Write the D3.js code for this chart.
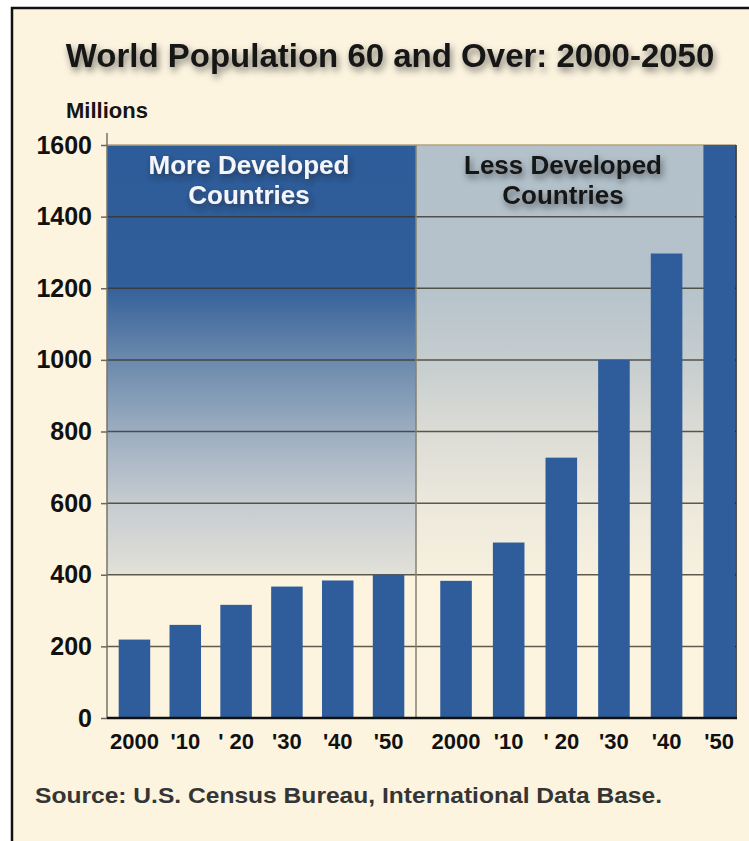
<!DOCTYPE html>
<html>
<head>
  <meta charset="utf-8">
  <script src="https://cdnjs.cloudflare.com/ajax/libs/d3/7.8.5/d3.min.js"></script>
  <title>World Population 60 and Over</title>
  <style>
    body { margin: 0; background: #fff; }
    text { font-family: "Liberation Sans", Arial, sans-serif; font-weight: bold; }
  </style>
</head>
<body>
<script>
// data (millions)
var years = ["2000", "'10", "' 20", "'30", "'40", "'50"];
var moreDeveloped = [219, 260, 316, 367, 384, 400];
var lessDeveloped = [383, 490, 727, 1000, 1297, 1600];
var yTicks = [0, 200, 400, 600, 800, 1000, 1200, 1400, 1600];
var moreLabel = ["More Developed", "Countries"];
var lessLabel = ["Less Developed", "Countries"];

var w = 749, h = 841;
var barColor = "#2f5d9b";

var svg = d3.select("body").append("svg")
  .attr("width", w)
  .attr("height", h);

var defs = svg.append("defs");

var sh = defs.append("filter").attr("id", "shadow")
  .attr("x", "-10%").attr("y", "-30%").attr("width", "120%").attr("height", "180%");
sh.append("feDropShadow").attr("dx", 2).attr("dy", 4).attr("stdDeviation", 3.5)
  .attr("flood-color", "#000").attr("flood-opacity", 0.5);

var sh2 = defs.append("filter").attr("id", "shadow2")
  .attr("x", "-10%").attr("y", "-30%").attr("width", "120%").attr("height", "180%");
sh2.append("feDropShadow").attr("dx", 2).attr("dy", 4).attr("stdDeviation", 3)
  .attr("flood-color", "#1a2535").attr("flood-opacity", 0.6);

// panel gradients
var gMore = defs.append("linearGradient").attr("id", "gMore")
  .attr("x1", 0).attr("y1", 0).attr("x2", 0).attr("y2", 1);
[[0, "#2d5c9a"], [0.32, "#305e99"], [0.49, "#6887ab"], [0.66, "#9aacc0"], [0.83, "#c5cbd0"], [1, "#e2e1d9"]]
  .forEach(function(s) { gMore.append("stop").attr("offset", s[0]).attr("stop-color", s[1]); });

var gLess = defs.append("linearGradient").attr("id", "gLess")
  .attr("x1", 0).attr("y1", 0).attr("x2", 0).attr("y2", 1);
[[0, "#b3c1cb"], [0.32, "#b5c2cb"], [0.49, "#c4ccce"], [0.66, "#dbdbd5"], [0.83, "#ebe8dc"], [1, "#f7f0de"]]
  .forEach(function(s) { gLess.append("stop").attr("offset", s[0]).attr("stop-color", s[1]); });

// frame
svg.append("rect").attr("x", 12).attr("y", 8).attr("width", w - 12).attr("height", h - 8)
  .attr("fill", "#fcf4df");
svg.append("path").attr("d", "M12," + h + "V8H" + w)
  .attr("fill", "none").attr("stroke", "#111").attr("stroke-width", 2.5);

// scales
var x0 = 107, xMid = 416, x1 = 736;
var y = d3.scaleLinear().domain([0, 1600]).range([718, 145]);

var xMore = d3.scaleBand().domain(years).range([x0, xMid])
  .paddingInner(0.38).paddingOuter(0.23);
var xLess = d3.scaleBand().domain(years).range([xMid, x1])
  .paddingInner(0.40).paddingOuter(0.24).align(0.96);

// panel backgrounds (1600 down to 400)
svg.append("rect").attr("x", x0).attr("y", y(1600)).attr("width", xMid - x0)
  .attr("height", y(400) - y(1600)).attr("fill", "url(#gMore)");
svg.append("rect").attr("x", xMid).attr("y", y(1600)).attr("width", x1 - xMid)
  .attr("height", y(400) - y(1600)).attr("fill", "url(#gLess)");

// gridlines
svg.selectAll("line.grid").data(yTicks.filter(function(d) { return d > 0 && d < 1600; }))
  .enter().append("line").attr("class", "grid")
  .attr("x1", x0).attr("x2", x1)
  .attr("y1", function(d) { return y(d); }).attr("y2", function(d) { return y(d); })
  .attr("stroke", "#3a3328").attr("stroke-opacity", 0.8).attr("stroke-width", 1.5);

svg.append("line").attr("x1", x0).attr("x2", x1).attr("y1", y(1600)).attr("y2", y(1600))
  .attr("stroke", "#b5a27a").attr("stroke-width", 1.5);

// bars
svg.append("g").selectAll("rect").data(moreDeveloped).enter().append("rect")
  .attr("x", function(d, i) { return xMore(years[i]); })
  .attr("y", function(d) { return y(d); })
  .attr("width", xMore.bandwidth())
  .attr("height", function(d) { return y(0) - y(d); })
  .attr("fill", barColor);

svg.append("g").selectAll("rect").data(lessDeveloped).enter().append("rect")
  .attr("x", function(d, i) { return xLess(years[i]); })
  .attr("y", function(d) { return y(d); })
  .attr("width", xLess.bandwidth())
  .attr("height", function(d) { return y(0) - y(d); })
  .attr("fill", barColor);

// frame lines of the plot
svg.append("line").attr("x1", x0).attr("x2", x0).attr("y1", y(1600) - 12).attr("y2", y(0))
  .attr("stroke", "#77736a").attr("stroke-width", 1.5);
svg.append("line").attr("x1", xMid).attr("x2", xMid).attr("y1", y(1600)).attr("y2", y(0))
  .attr("stroke", "#86826f").attr("stroke-width", 1.5);
svg.append("line").attr("x1", x1).attr("x2", x1).attr("y1", y(1600)).attr("y2", y(0))
  .attr("stroke", "#1c1c1c").attr("stroke-width", 1.5);
svg.append("line").attr("x1", x0).attr("x2", x1 + 1).attr("y1", y(0)).attr("y2", y(0))
  .attr("stroke", "#111").attr("stroke-width", 2.5);

// y axis
var yAxis = svg.append("g").attr("transform", "translate(" + x0 + ",0)")
  .call(d3.axisLeft(y).tickValues(yTicks).tickSize(6).tickPadding(9).tickFormat(d3.format("d")));
yAxis.select(".domain").remove();
yAxis.selectAll(".tick line").attr("stroke", "#6d675c").attr("stroke-width", 1.5);
yAxis.selectAll(".tick text").attr("font-size", 25).attr("fill", "#111")
  .attr("font-family", "Liberation Sans, Arial, sans-serif").attr("font-weight", "bold");

// x axes
[xMore, xLess].forEach(function(sc) {
  var ax = svg.append("g").attr("transform", "translate(0," + y(0) + ")")
    .call(d3.axisBottom(sc).tickSize(0).tickPadding(15));
  ax.select(".domain").remove();
  ax.selectAll(".tick text").attr("font-size", 22).attr("fill", "#111")
    .attr("font-family", "Liberation Sans, Arial, sans-serif").attr("font-weight", "bold");
});

// panel headers
svg.append("text").attr("x", 249).attr("y", 174).attr("text-anchor", "middle")
  .attr("font-size", 26).attr("fill", "#f4f6fa").attr("filter", "url(#shadow2)")
  .selectAll("tspan").data(moreLabel).enter().append("tspan")
  .attr("x", 249).attr("dy", function(d, i) { return i ? 30 : 0; })
  .text(function(d) { return d; });

svg.append("text").attr("x", 563).attr("y", 174).attr("text-anchor", "middle")
  .attr("font-size", 26).attr("fill", "#151515").attr("filter", "url(#shadow)")
  .selectAll("tspan").data(lessLabel).enter().append("tspan")
  .attr("x", 563).attr("dy", function(d, i) { return i ? 30 : 0; })
  .text(function(d) { return d; });

// title and notes
svg.append("text").attr("x", 390).attr("y", 67).attr("text-anchor", "middle")
  .attr("font-size", 33).attr("fill", "#151515").attr("filter", "url(#shadow)")
  .text("World Population 60 and Over: 2000-2050");

svg.append("text").attr("x", 66).attr("y", 118)
  .attr("font-size", 22).attr("fill", "#151515")
  .text("Millions");

svg.append("text").attr("x", 35).attr("y", 803)
  .attr("font-size", 22).attr("fill", "#353535")
  .attr("textLength", 627).attr("lengthAdjust", "spacingAndGlyphs")
  .text("Source: U.S. Census Bureau, International Data Base.");
</script>
</body>
</html>
